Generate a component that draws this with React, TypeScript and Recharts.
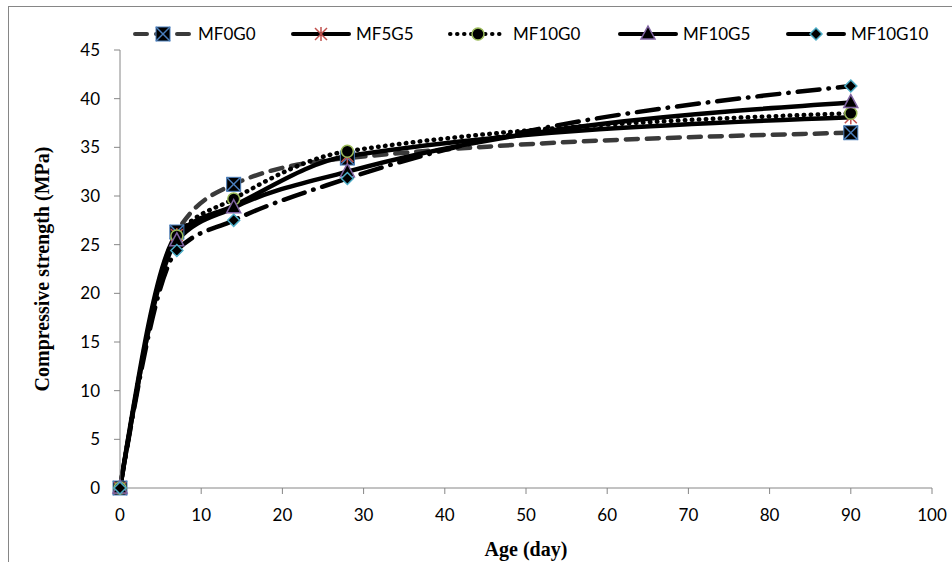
import React from 'react';
import { LineChart, Line, XAxis, YAxis } from 'recharts';

const ages = [0, 7, 14, 28, 90];
const mf0g0 = [0, 26.3, 31.2, 33.9, 36.5];
const mf5g5 = [0, 26.0, 29.0, 34.1, 38.1];
const mf10g0 = [0, 25.9, 29.7, 34.6, 38.5];
const mf10g5 = [0, 25.4, 28.8, 32.5, 39.6];
const mf10g10 = [0, 24.4, 27.5, 31.8, 41.3];

const xTicks = [0, 10, 20, 30, 40, 50, 60, 70, 80, 90, 100];
const yTicks = [0, 5, 10, 15, 20, 25, 30, 35, 40, 45];

const data = ages.map((age, i) => ({
  age,
  MF0G0: mf0g0[i],
  MF5G5: mf5g5[i],
  MF10G0: mf10g0[i],
  MF10G5: mf10g5[i],
  MF10G10: mf10g10[i],
}));

const AXIS = '#868686';
const TICK_FONT = 'Lato, "Open Sans", sans-serif';
const TITLE_FONT = '"Liberation Serif", "Times New Roman", serif';

// markers, drawn around (x, y)
function SquareX({ x, y }: { x: number; y: number }) {
  return (
    <g>
      <rect x={x - 7} y={y - 7} width={14} height={14} fill="#000" stroke="#4a7ebb" strokeWidth={1} />
      <line x1={x - 7} y1={y - 7} x2={x + 7} y2={y + 7} stroke="#4a7ebb" strokeWidth={1.5} />
      <line x1={x + 7} y1={y - 7} x2={x - 7} y2={y + 7} stroke="#4a7ebb" strokeWidth={1.5} />
    </g>
  );
}

function Star({ x, y }: { x: number; y: number }) {
  return (
    <g stroke="#c0504d" strokeWidth={1.5}>
      <line x1={x - 6} y1={y - 6} x2={x + 6} y2={y + 6} />
      <line x1={x + 6} y1={y - 6} x2={x - 6} y2={y + 6} />
      <line x1={x} y1={y - 7} x2={x} y2={y + 7} />
    </g>
  );
}

function Circle({ x, y }: { x: number; y: number }) {
  return <circle cx={x} cy={y} r={6} fill="#000" stroke="#9bbb59" strokeWidth={1.5} />;
}

function Triangle({ x, y }: { x: number; y: number }) {
  return (
    <path
      d={`M${x},${y - 8}L${x + 7},${y + 5}L${x - 7},${y + 5}Z`}
      fill="#000"
      stroke="#8064a2"
      strokeWidth={1.5}
    />
  );
}

function Diamond({ x, y }: { x: number; y: number }) {
  return (
    <path
      d={`M${x},${y - 6}L${x + 6},${y}L${x},${y + 6}L${x - 6},${y}Z`}
      fill="#000"
      stroke="#4bacc6"
      strokeWidth={1.5}
    />
  );
}

const series = [
  { key: 'MF0G0', stroke: '#3a3a3a', dash: '12 9', Marker: SquareX },
  { key: 'MF5G5', stroke: '#000', dash: undefined, Marker: Star },
  { key: 'MF10G0', stroke: '#000', dash: '0.5 6.5', Marker: Circle },
  { key: 'MF10G5', stroke: '#000', dash: undefined, Marker: Triangle },
  { key: 'MF10G10', stroke: '#000', dash: '22 9 0.5 9', Marker: Diamond },
];

const legendX = [135, 293, 450, 620, 788];
const LEGEND_Y = 34;

function makeDot(Marker: (p: { x: number; y: number }) => React.ReactElement) {
  return (props: any) => {
    const { cx, cy, index } = props;
    if (cx == null || cy == null) return <g key={index} />;
    return (
      <g key={index}>
        <Marker x={cx} y={cy} />
      </g>
    );
  };
}

export default function App() {
  return (
    <div style={{ position: 'absolute', left: 0, top: 0, width: 952, height: 562, background: '#fff' }}>
      <div
        style={{
          position: 'absolute',
          left: 8,
          top: 6,
          right: 0,
          bottom: 0,
          borderLeft: `1px solid ${AXIS}`,
          borderTop: `1px solid ${AXIS}`,
        }}
      />
      <svg
        width={952}
        height={40}
        style={{ position: 'absolute', left: 0, top: LEGEND_Y - 20 }}
      >
        {series.map((s, i) => {
          const x0 = legendX[i];
          const M = s.Marker;
          return (
            <g key={s.key}>
              <line
                x1={x0}
                y1={20}
                x2={x0 + 56}
                y2={20}
                stroke={s.stroke}
                strokeWidth={4}
                strokeDasharray={s.dash}
                strokeLinecap="round"
              />
              <M x={x0 + 28} y={20} />
              <text
                x={x0 + 63}
                y={20}
                dy="0.36em"
                fontFamily={TICK_FONT}
                fontSize={17}
                fill="#000"
              >
                {s.key}
              </text>
            </g>
          );
        })}
      </svg>
      <div style={{ position: 'absolute', left: 0, top: 0 }}>
        <LineChart
          width={952}
          height={562}
          data={data}
          margin={{ top: 50, right: 20, bottom: 0, left: 0 }}
        >
          <XAxis
            dataKey="age"
            type="number"
            domain={[0, 100]}
            ticks={xTicks}
            interval={0}
            stroke={AXIS}
            tickSize={6}
            tickMargin={15}
            tick={{ fill: '#000', fontSize: 17, fontFamily: TICK_FONT }}
            height={74}
            label={{
              value: 'Age (day)',
              position: 'insideBottom',
              offset: 6,
              fill: '#000',
              fontSize: 20,
              fontWeight: 'bold',
              fontFamily: TITLE_FONT,
            }}
          />
          <YAxis
            domain={[0, 45]}
            ticks={yTicks}
            interval={0}
            stroke={AXIS}
            tickSize={6}
            tickMargin={14}
            width={120}
            tick={{ fill: '#000', fontSize: 17, fontFamily: TICK_FONT }}
            label={{
              value: 'Compressive strength (MPa)',
              angle: -90,
              position: 'insideLeft',
              offset: 42,
              style: { textAnchor: 'middle' },
              fill: '#000',
              fontSize: 20,
              fontWeight: 'bold',
              fontFamily: TITLE_FONT,
            }}
          />
          {series.map((s) => (
            <Line
              key={s.key}
              dataKey={s.key}
              type="monotone"
              stroke={s.stroke}
              strokeWidth={4.5}
              strokeDasharray={s.dash}
              strokeLinecap="round"
              dot={makeDot(s.Marker)}
              activeDot={false}
              isAnimationActive={false}
            />
          ))}
        </LineChart>
      </div>
    </div>
  );
}
